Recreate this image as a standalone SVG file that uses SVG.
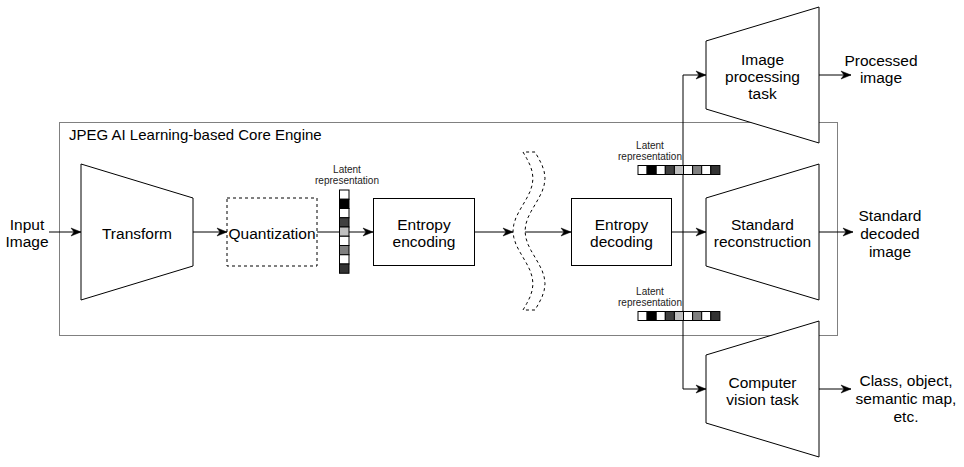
<svg xmlns="http://www.w3.org/2000/svg" width="964" height="467" viewBox="0 0 964 467">
<style>
text{font-family:"Liberation Sans",Arial,Helvetica,sans-serif;fill:#000}
.lbl{font-size:15.5px;text-anchor:middle}
.small{font-size:10px;text-anchor:middle;fill:#222}
.node{fill:#fff;stroke:#000;stroke-width:1}
.dash{fill:#fff;stroke:#000;stroke-width:1;stroke-dasharray:3 3}
.edge{fill:none;stroke:#000;stroke-width:1}
.cell{stroke:#000;stroke-width:1}
</style>
<defs>
<marker id="arr" markerUnits="userSpaceOnUse" markerWidth="11" markerHeight="9" refX="10" refY="4" orient="auto" overflow="visible">
<path d="M0,0 L10,4 L0,8 L3,4 Z" fill="#000" stroke="#000" stroke-width="0.5"/>
</marker>
</defs>
<rect width="964" height="467" fill="#fff"/>

<g id="core-engine">
<rect x="59.5" y="122.5" width="778" height="213" fill="none" stroke="#808080" stroke-width="1"/>
<text x="69" y="140" style="font-size:15px">JPEG AI Learning-based Core Engine</text>
</g>

<g id="connectors">
<path class="edge" d="M49,232 H81" marker-end="url(#arr)"/>
<path class="edge" d="M193,232 H227" marker-end="url(#arr)"/>
<path class="edge" d="M317,232 H373" marker-end="url(#arr)"/>
<path class="edge" d="M475,232 H513" marker-end="url(#arr)"/>
<path class="edge" d="M525,232 H571" marker-end="url(#arr)"/>
<path class="edge" d="M672,232 H706" marker-end="url(#arr)"/>
<path class="edge" d="M683,232 V75 H706" marker-end="url(#arr)"/>
<path class="edge" d="M683,232 V389 H706" marker-end="url(#arr)"/>
<path class="edge" d="M819,232 H853" marker-end="url(#arr)"/>
<path class="edge" d="M819,75 H851" marker-end="url(#arr)"/>
<path class="edge" d="M819,389 H851" marker-end="url(#arr)"/>
</g>

<g id="input-image">
<text class="lbl" x="27" y="230">Input</text>
<text class="lbl" x="27" y="247">Image</text>
</g>

<g id="transform">
<polygon class="node" points="81,164 193,198 193,266 81,300"/>
<text class="lbl" x="137" y="238.5">Transform</text>
</g>

<g id="quantization">
<rect class="dash" x="227" y="198" width="90" height="68"/>
<text class="lbl" x="272" y="238.5">Quantization</text>
</g>

<g id="latent-1">
<text class="small" x="347" y="173">Latent</text>
<text class="small" x="347" y="184">representation</text>
<rect class="cell" x="339.5" y="190" width="9.5" height="9.25" fill="#fff"/>
<rect class="cell" x="339.5" y="199.25" width="9.5" height="9.25" fill="#000"/>
<rect class="cell" x="339.5" y="208.5" width="9.5" height="9.25" fill="#fff"/>
<rect class="cell" x="339.5" y="217.75" width="9.5" height="9.25" fill="#404040"/>
<rect class="cell" x="339.5" y="227" width="9.5" height="9.25" fill="#c0c0c0"/>
<rect class="cell" x="339.5" y="236.25" width="9.5" height="9.25" fill="#fff"/>
<rect class="cell" x="339.5" y="245.5" width="9.5" height="9.25" fill="#808080"/>
<rect class="cell" x="339.5" y="254.75" width="9.5" height="9.25" fill="#fff"/>
<rect class="cell" x="339.5" y="264" width="9.5" height="9.25" fill="#333"/>
</g>

<g id="entropy-encoding">
<rect class="node" x="373.5" y="198.5" width="101" height="67"/>
<text class="lbl" x="424" y="230">Entropy</text>
<text class="lbl" x="424" y="247">encoding</text>
</g>

<g id="channel">
<path class="dash" d="M523,152 L526.8,158.6 L530.1,165.2 L532.2,171.7 L533,178.3 L532.2,184.9 L530.1,191.5 L526.8,198.1 L523,204.7 L519.2,211.2 L515.9,217.8 L513.8,224.4 L513,231 L513.8,237.6 L515.9,244.2 L519.2,250.8 L523,257.3 L526.8,263.9 L530.1,270.5 L532.2,277.1 L533,283.7 L532.2,290.3 L530.1,296.8 L526.8,303.4 L523,310 L535,310 L538.8,303.4 L542.1,296.8 L544.2,290.3 L545,283.7 L544.2,277.1 L542.1,270.5 L538.8,263.9 L535,257.3 L531.2,250.8 L527.9,244.2 L525.8,237.6 L525,231 L525.8,224.4 L527.9,217.8 L531.2,211.2 L535,204.7 L538.8,198.1 L542.1,191.5 L544.2,184.9 L545,178.3 L544.2,171.7 L542.1,165.2 L538.8,158.6 L535,152 Z"/>
</g>

<g id="entropy-decoding">
<rect class="node" x="571.5" y="198.5" width="100" height="67"/>
<text class="lbl" x="621.5" y="230">Entropy</text>
<text class="lbl" x="621.5" y="247">decoding</text>
</g>

<g id="latent-2">
<text class="small" x="650" y="149">Latent</text>
<text class="small" x="650" y="160">representation</text>
<rect class="cell" x="638" y="165.5" width="9.1" height="9" fill="#fff"/>
<rect class="cell" x="647.1" y="165.5" width="9.1" height="9" fill="#000"/>
<rect class="cell" x="656.2" y="165.5" width="9.1" height="9" fill="#fff"/>
<rect class="cell" x="665.3" y="165.5" width="9.1" height="9" fill="#404040"/>
<rect class="cell" x="674.4" y="165.5" width="9.1" height="9" fill="#c0c0c0"/>
<rect class="cell" x="683.5" y="165.5" width="9.1" height="9" fill="#fff"/>
<rect class="cell" x="692.6" y="165.5" width="9.1" height="9" fill="#808080"/>
<rect class="cell" x="701.7" y="165.5" width="9.1" height="9" fill="#fff"/>
<rect class="cell" x="710.8" y="165.5" width="9.1" height="9" fill="#333"/>
</g>

<g id="latent-3">
<text class="small" x="650" y="295">Latent</text>
<text class="small" x="650" y="306">representation</text>
<rect class="cell" x="638" y="311.5" width="9.1" height="9" fill="#fff"/>
<rect class="cell" x="647.1" y="311.5" width="9.1" height="9" fill="#000"/>
<rect class="cell" x="656.2" y="311.5" width="9.1" height="9" fill="#fff"/>
<rect class="cell" x="665.3" y="311.5" width="9.1" height="9" fill="#404040"/>
<rect class="cell" x="674.4" y="311.5" width="9.1" height="9" fill="#c0c0c0"/>
<rect class="cell" x="683.5" y="311.5" width="9.1" height="9" fill="#fff"/>
<rect class="cell" x="692.6" y="311.5" width="9.1" height="9" fill="#808080"/>
<rect class="cell" x="701.7" y="311.5" width="9.1" height="9" fill="#fff"/>
<rect class="cell" x="710.8" y="311.5" width="9.1" height="9" fill="#333"/>
</g>

<g id="image-processing">
<polygon class="node" points="706,41 819,7 819,143 706,109"/>
<text class="lbl" x="762.5" y="65">Image</text>
<text class="lbl" x="762.5" y="82">processing</text>
<text class="lbl" x="762.5" y="99">task</text>
</g>

<g id="standard-reconstruction">
<polygon class="node" points="706,198 819,164 819,300 706,266"/>
<text class="lbl" x="762.5" y="229.5">Standard</text>
<text class="lbl" x="762.5" y="247">reconstruction</text>
</g>

<g id="computer-vision">
<polygon class="node" points="706,355 819,321 819,457 706,423"/>
<text class="lbl" x="762.5" y="387.5">Computer</text>
<text class="lbl" x="762.5" y="405">vision task</text>
</g>

<g id="processed-image">
<text class="lbl" x="881" y="66">Processed</text>
<text class="lbl" x="881" y="83">image</text>
</g>

<g id="standard-decoded-image">
<text class="lbl" x="890" y="221">Standard</text>
<text class="lbl" x="890" y="239">decoded</text>
<text class="lbl" x="890" y="257">image</text>
</g>

<g id="cv-output">
<text class="lbl" x="906" y="386">Class, object,</text>
<text class="lbl" x="906" y="404">semantic map,</text>
<text class="lbl" x="906" y="422">etc.</text>
</g>
</svg>
